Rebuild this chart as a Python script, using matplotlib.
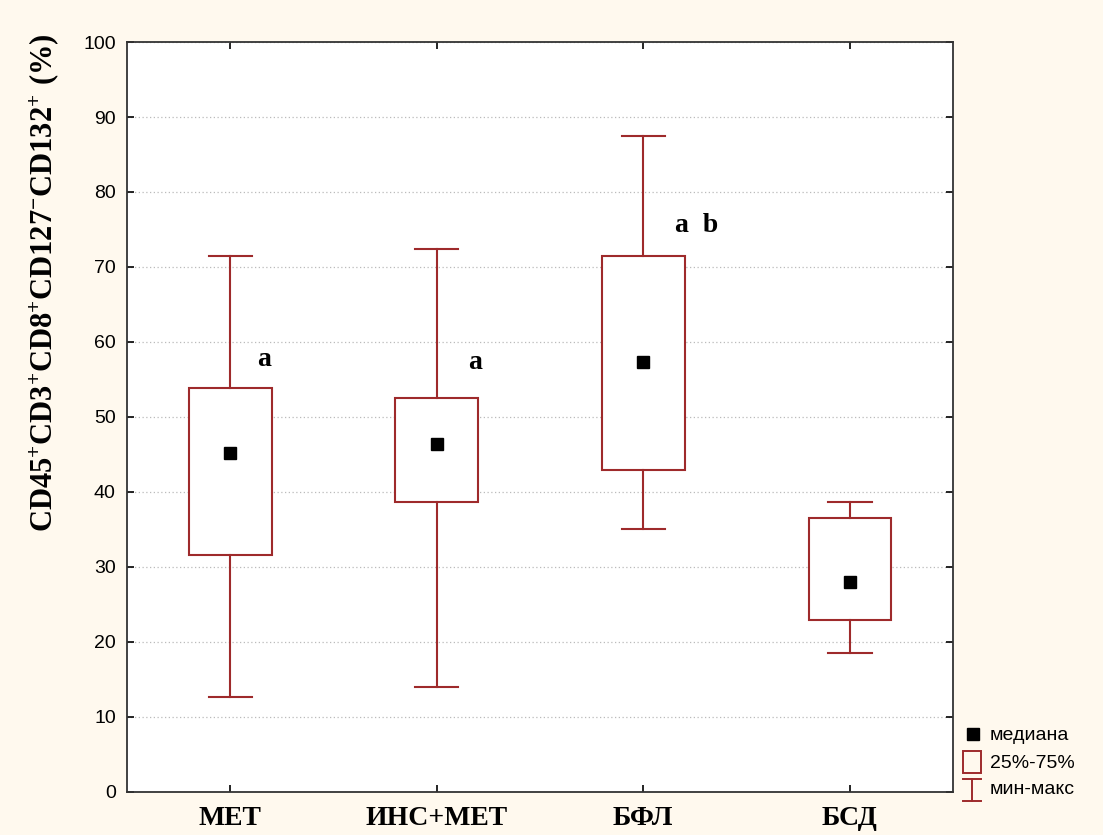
import matplotlib
matplotlib.use('Agg')
from matplotlib import pyplot as plt
from matplotlib.lines import Line2D
from matplotlib.patches import Rectangle

plt.rcParams['mathtext.fontset'] = 'custom'
plt.rcParams['mathtext.rm'] = 'Liberation Serif:bold'
plt.rcParams['mathtext.bf'] = 'Liberation Serif:bold'
plt.rcParams['mathtext.it'] = 'Liberation Serif:bold'

# data
groups = ['МЕТ', 'ИНС+МЕТ', 'БФЛ', 'БСД']
mins = [12.7, 14.0, 35.0, 18.5]
q1s = [31.6, 38.7, 42.9, 22.9]
medians = [45.2, 46.4, 57.3, 28.0]
q3s = [53.9, 52.5, 71.4, 36.5]
maxs = [71.5, 72.4, 87.5, 38.7]
marks = ['a', 'a', 'a  b', '']
mark_x = [1.13, 2.15, 3.155, 0]
mark_y = [57.6, 57.3, 75.5, 0]

red = '#9e2a2b'
bg = '#fff9ee'

fig = plt.figure(figsize=(11.03, 8.35), dpi=100, facecolor=bg)
ax = fig.add_axes([0.1151, 0.0515, 0.749, 0.8982])
ax.set_facecolor('white')

stats = []
for i in range(len(groups)):
    stats.append(dict(whislo=mins[i], q1=q1s[i], med=medians[i], q3=q3s[i],
                      whishi=maxs[i], fliers=[], label=groups[i]))

pos = list(range(1, len(groups) + 1))
ax.bxp(stats, positions=pos, widths=0.4, patch_artist=True, showfliers=False,
       boxprops=dict(facecolor='white', edgecolor=red, linewidth=1.5),
       whiskerprops=dict(color=red, linewidth=1.5),
       capprops=dict(color=red, linewidth=1.5),
       medianprops=dict(linewidth=0), capwidths=0.21, zorder=3)
ax.plot(pos, medians, 's', color='black', markersize=8, zorder=4, linestyle='none')

for i, m in enumerate(marks):
    if m:
        ax.text(mark_x[i], mark_y[i], m, fontfamily='Liberation Serif',
                fontweight='bold', fontsize=20, ha='left', va='center')

ax.set_xlim(0.5, 4.5)
ax.set_ylim(0, 100)
ax.set_yticks(range(0, 101, 10))
ax.set_xticks(pos)
ax.set_xticklabels(groups, fontfamily='Liberation Serif', fontweight='bold', fontsize=20)
for lab in ax.get_yticklabels():
    lab.set_fontfamily('Liberation Sans')
    lab.set_fontsize(14)
ax.tick_params(direction='in', top=True, right=True, length=5, width=1.2, pad=8)
ax.tick_params(axis='x', pad=10)
for s in ax.spines.values():
    s.set_linewidth(1.3)
    s.set_color('#333333')
ax.grid(axis='y', linestyle=(0, (1, 2)), color='#bbbbbb', linewidth=0.9, zorder=0)
ax.set_axisbelow(True)

# y label sits high, not centred on the axis
fig.text(44 / 1103, 1 - 33 / 835,
         r'$\mathrm{CD45^{+}CD3^{+}CD8^{+}CD127^{-}CD132^{+}\ (\%)}$',
         fontsize=22, rotation=90, ha='center', va='top')

# legend drawn by hand at bottom right
fig.add_artist(Line2D([973 / 1103], [1 - 734 / 835], marker='s', color='black',
                      markersize=8, linestyle='none'))
fig.add_artist(Rectangle((963 / 1103, 1 - 773 / 835), 18 / 1103, 22 / 835,
                         facecolor='none', edgecolor=red, linewidth=1.4))
fig.add_artist(Line2D([972 / 1103, 972 / 1103], [1 - 779 / 835, 1 - 801 / 835], color=red, lw=1.4))
fig.add_artist(Line2D([963 / 1103, 981 / 1103], [1 - 779 / 835, 1 - 779 / 835], color=red, lw=1.4))
fig.add_artist(Line2D([963 / 1103, 981 / 1103], [1 - 801 / 835, 1 - 801 / 835], color=red, lw=1.4))
for ty, t in zip([735, 763, 790], ['медиана', '25%-75%', 'мин-макс']):
    fig.text(990 / 1103, 1 - ty / 835, t, fontfamily='Liberation Sans', fontsize=14,
             ha='left', va='center')

fig.savefig('out.png', dpi=100, facecolor=bg)
